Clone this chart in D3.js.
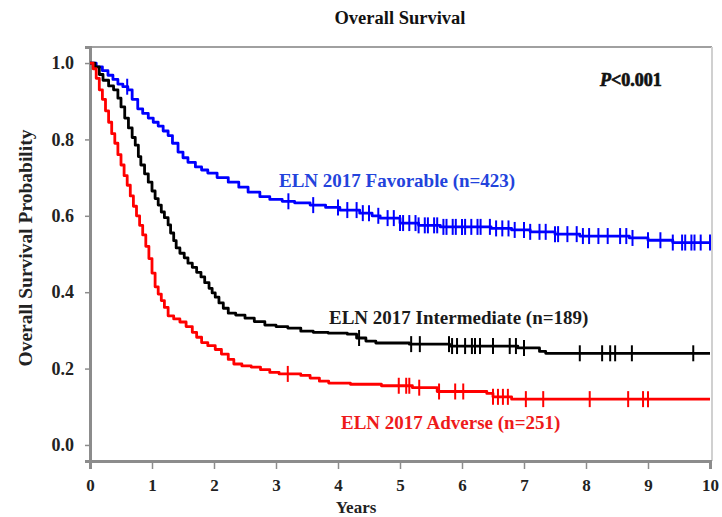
<!DOCTYPE html>
<html>
<head>
<meta charset="utf-8">
<script src="https://cdn.jsdelivr.net/npm/d3@7"></script>
<style>
  body { margin: 0; background: #fff; }
  text { font-family: "Liberation Serif", "Times New Roman", serif; font-weight: bold; }
</style>
</head>
<body>
<script>
// chart size
var w = 722;
var h = 517;

// Kaplan-Meier estimates: [years, survival]
var favorable = [[0,1],[0.1,0.99],[0.2,0.98],[0.29,0.968],[0.37,0.957],[0.45,0.945],[0.53,0.938],[0.61,0.93],
  [0.68,0.905],[0.77,0.88],[0.85,0.868],[0.94,0.856],[1.02,0.845],[1.1,0.835],[1.18,0.822],[1.26,0.81],
  [1.33,0.79],[1.42,0.767],[1.5,0.752],[1.58,0.74],[1.7,0.728],[1.8,0.72],[1.9,0.712],[2.05,0.7],
  [2.23,0.688],[2.4,0.675],[2.55,0.662],[2.74,0.65],[2.9,0.643],[3.1,0.638],[3.3,0.634],[3.55,0.628],
  [3.8,0.622],[4.03,0.615],[4.35,0.607],[4.55,0.6],[4.68,0.594],[5.0,0.581],[5.3,0.575],[5.65,0.571],
  [6.47,0.567],[6.8,0.563],[7.1,0.558],[7.5,0.552],[7.9,0.547],[8.7,0.542],[9.0,0.536],[9.4,0.53],[10,0.53]];
var intermediate = [[0,1],[0.08,0.99],[0.15,0.97],[0.21,0.955],[0.3,0.94],[0.38,0.93],[0.45,0.908],[0.5,0.885],
  [0.56,0.856],[0.62,0.83],[0.68,0.805],[0.73,0.785],[0.78,0.755],[0.82,0.733],[0.88,0.71],[0.94,0.688],
  [1.0,0.665],[1.05,0.645],[1.1,0.628],[1.15,0.61],[1.2,0.595],[1.26,0.576],[1.3,0.555],[1.35,0.535],
  [1.39,0.516],[1.45,0.502],[1.52,0.49],[1.58,0.476],[1.65,0.465],[1.72,0.452],[1.79,0.44],[1.85,0.425],
  [1.92,0.41],[1.97,0.398],[2.02,0.387],[2.08,0.372],[2.15,0.358],[2.23,0.345],[2.35,0.34],[2.5,0.332],
  [2.65,0.323],[2.82,0.314],[3.0,0.31],[3.19,0.306],[3.4,0.298],[3.6,0.295],[3.84,0.293],[4.15,0.29],
  [4.3,0.28],[4.45,0.272],[4.61,0.267],[5.15,0.264],[5.8,0.259],[6.9,0.254],[7.25,0.245],[7.35,0.24],[10,0.24]];
var adverse = [[0,1],[0.05,0.985],[0.1,0.96],[0.15,0.93],[0.2,0.905],[0.25,0.875],[0.3,0.845],[0.35,0.815],
  [0.4,0.79],[0.45,0.76],[0.5,0.733],[0.55,0.705],[0.6,0.68],[0.65,0.652],[0.7,0.625],[0.75,0.6],
  [0.8,0.575],[0.85,0.55],[0.9,0.52],[0.95,0.488],[1.0,0.45],[1.05,0.414],[1.1,0.395],[1.15,0.378],
  [1.2,0.36],[1.26,0.338],[1.35,0.33],[1.45,0.322],[1.55,0.31],[1.65,0.295],[1.72,0.282],[1.8,0.268],
  [1.9,0.26],[2.02,0.25],[2.12,0.238],[2.23,0.224],[2.32,0.212],[2.45,0.207],[2.6,0.204],[2.75,0.197],
  [2.9,0.19],[3.05,0.186],[3.4,0.182],[3.55,0.175],[3.7,0.167],[3.85,0.162],[4.2,0.159],[4.7,0.155],
  [5.2,0.15],[5.6,0.14],[6.4,0.135],[6.5,0.126],[6.8,0.12],[10,0.12]];

// censored observations (years)
var favorableCensor = [0.6, 3.2, 3.6, 4.0, 4.15, 4.3, 4.4, 4.5, 4.65, 4.8, 4.9, 5.0, 5.05, 5.15, 5.25, 5.3,
  5.4, 5.45, 5.55, 5.6, 5.7, 5.75, 5.85, 5.9, 6.0, 6.05, 6.15, 6.25, 6.3, 6.45, 6.55, 6.65, 6.75, 6.85,
  7.0, 7.1, 7.25, 7.35, 7.5, 7.55, 7.7, 7.85, 7.95, 8.05, 8.2, 8.35, 8.55, 8.65, 8.75, 9.0, 9.2, 9.4,
  9.55, 9.6, 9.7, 9.75, 9.85, 10.0];
var intermediateCensor = [4.34, 5.18, 5.32, 5.79, 5.84, 5.92, 6.05, 6.16, 6.21, 6.29, 6.5, 6.77, 6.87, 7.0,
  7.9, 8.26, 8.39, 8.47, 8.74, 9.73];
var adverseCensor = [3.19, 4.98, 5.1, 5.15, 5.31, 5.63, 5.89, 6.02, 6.5, 6.58, 6.66, 6.74, 7.03, 7.31,
  8.06, 8.68, 8.92, 9.0];

var xTicks = [0, 1, 2, 3, 4, 5, 6, 7, 8, 9, 10];
var yTicks = [0, 0.2, 0.4, 0.6, 0.8, 1.0];

var groups = [
  { name: "ELN 2017 Favorable (n=423)", data: favorable, censor: favorableCensor, color: "#0000ff", text: "#2343dc", lx: 279, ly: 187 },
  { name: "ELN 2017 Intermediate (n=189)", data: intermediate, censor: intermediateCensor, color: "#000000", text: "#1a1a1a", lx: 329, ly: 324 },
  { name: "ELN 2017 Adverse (n=251)", data: adverse, censor: adverseCensor, color: "#ff0000", text: "#ee1a1a", lx: 341, ly: 429 }
];

var x = d3.scaleLinear().domain([0, 10]).range([90, 710]);
var y = d3.scaleLinear().domain([-0.042, 1.042]).range([461, 47]);

var svg = d3.select("body")
            .append("svg")
            .attr("width", w)
            .attr("height", h);

// frame top / right
svg.append("line")
  .attr("x1", 90).attr("x2", 712).attr("y1", 47).attr("y2", 47)
  .attr("stroke", "#a0a0a0").attr("stroke-width", 2);
svg.append("line")
  .attr("x1", 712).attr("x2", 712).attr("y1", 47).attr("y2", 461)
  .attr("stroke", "#d0d0d0").attr("stroke-width", 2);

// axes
var yAxis = svg.append("g")
  .attr("transform", "translate(90,0)")
  .call(d3.axisLeft(y).tickValues(yTicks).tickFormat(d3.format(".1f")).tickSize(5).tickPadding(11));
var xAxis = svg.append("g")
  .attr("transform", "translate(0,461)")
  .call(d3.axisBottom(x).tickValues(xTicks).tickFormat(d3.format("d")).tickSize(8).tickPadding(10));

[yAxis, xAxis].forEach(function(ax) {
  ax.select(".domain").attr("stroke", "#8c8c8c").attr("stroke-width", 3);
  ax.selectAll(".tick line").attr("stroke", "#8c8c8c").attr("stroke-width", 1.5);
  ax.selectAll(".tick text")
    .attr("font-family", "Liberation Serif, serif")
    .attr("font-weight", "bold")
    .attr("font-size", "18px")
    .attr("fill", "#222");
});
xAxis.selectAll(".tick text").attr("font-size", "17px");

// curves
var line = d3.line()
  .x(function(d) { return x(d[0]); })
  .y(function(d) { return y(d[1]); })
  .curve(d3.curveStepAfter);

var bisect = d3.bisector(function(d) { return d[0]; }).right;
function survAt(data, t) {
  var i = bisect(data, t) - 1;
  return data[Math.max(0, i)][1];
}

groups.forEach(function(g) {
  svg.append("path")
    .datum(g.data)
    .attr("d", line)
    .attr("fill", "none")
    .attr("stroke", g.color)
    .attr("stroke-width", 2.8)
    .attr("stroke-linejoin", "round");

  svg.append("g").selectAll("line")
    .data(g.censor)
    .enter()
    .append("line")
    .attr("x1", function(d) { return x(d); })
    .attr("x2", function(d) { return x(d); })
    .attr("y1", function(d) { return y(survAt(g.data, d)) - 8; })
    .attr("y2", function(d) { return y(survAt(g.data, d)) + 8; })
    .attr("stroke", g.color)
    .attr("stroke-width", 2);

  svg.append("text")
    .text(g.name)
    .attr("x", g.lx)
    .attr("y", g.ly)
    .attr("font-size", "19px")
    .attr("fill", g.text);
});

// titles
svg.append("text")
  .text("Overall Survival")
  .attr("x", 400).attr("y", 24)
  .attr("text-anchor", "middle")
  .attr("font-size", "18.5px")
  .attr("fill", "#111");

svg.append("text")
  .text("Overall Survival Probability")
  .attr("transform", "translate(32,248) rotate(-90)")
  .attr("text-anchor", "middle")
  .attr("font-size", "19.5px")
  .attr("fill", "#222");

svg.append("text")
  .text("Years")
  .attr("x", 356).attr("y", 513)
  .attr("text-anchor", "middle")
  .attr("font-size", "17px")
  .attr("fill", "#222");

var pval = svg.append("text")
  .attr("x", 600).attr("y", 86)
  .attr("font-family", "Liberation Sans, Arial, sans-serif")
  .attr("font-size", "18px")
  .attr("fill", "#111")
  .attr("stroke", "#111")
  .attr("stroke-width", 0.7);
pval.append("tspan").attr("font-style", "italic").text("P");
pval.append("tspan").text("<0.001");
</script>
</body>
</html>
